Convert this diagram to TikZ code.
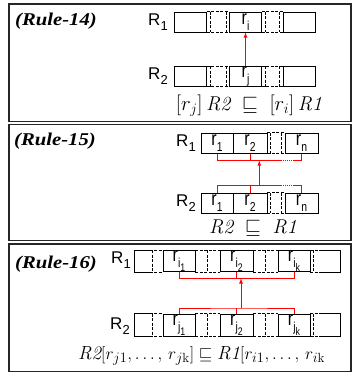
\documentclass[tikz,border=0pt]{standalone}
\usepackage{amsmath}
\usepackage{amssymb}
\usepackage{fontspec}
\setsansfont{Liberation Sans}
\newfontfamily\rulefont[FakeStretch=1.15]{Liberation Serif}
\newfontfamily\cellfont[FakeStretch=0.8]{Liberation Sans}
\newcommand{\lo}[1]{\raisebox{-0.3em}{\fontsize{13}{13}\selectfont #1}}
\newcommand{\llo}[1]{\raisebox{-0.25em}{\fontsize{11}{11}\selectfont #1}}

\tikzset{
  frame/.style={draw=black!85, line width=1.2pt},
  cell/.style={draw, line width=0.8pt, minimum width=32pt, minimum height=20pt,
    inner sep=0pt, font=\cellfont\fontsize{20}{20}\selectfont},
  edge/.style={line width=0.8pt},
  gap/.style={line width=0.8pt, dash pattern=on 3pt off 1.5pt},
  link/.style={red, line width=0.8pt},
  rulelbl/.style={font=\rulefont\fontsize{18}{18}\selectfont\bfseries\itshape},
  relname/.style={font=\sffamily\fontsize{17}{17}\selectfont, inner sep=0pt},
  formula/.style={font=\fontsize{20}{20}\selectfont, inner sep=0pt}
}

\begin{document}
\begin{tikzpicture}[x=1pt, y=-1pt, >=latex]
        \useasboundingbox (0,0) rectangle (352,374);

        \draw[frame] (9,4) rectangle (351,121.7); % рамка 1
        \draw[frame] (9,124.3) rectangle (351,240.7); % рамка 2
        \draw[frame] (9,244) rectangle (351,371.7); % рамка 3

        % правило 14
        \node[rulelbl] (rule14) at (56,21) {(Rule-14)};
        \node[relname] (R1a) at (158,22) {R\lo{1}};
        \node[relname] (R2a) at (158,76.5) {R\lo{2}};
        \node[cell] (a1) at (190.5,22) {};
        \node[cell] (a2) at (245.5,22) {r\lo{i}};
        \node[cell] (a3) at (299,22) {};
        \node[cell] (b1) at (190.5,76.5) {};
        \node[cell] (b2) at (245.5,76.5) {r\lo{j}};
        \node[cell] (b3) at (299,76.5) {};
        \foreach \l/\r in {a1/a2,a2/a3,b1/b2,b2/b3}
          \draw[gap] (\l.north east) -- (\r.north west) (\l.south east) -- (\r.south west)
            ([xshift=3pt]\l.north east) -- ([xshift=3pt]\l.south east)
            ([xshift=-3pt]\r.north west) -- ([xshift=-3pt]\r.south west);
        \draw[link,->] (b2.north) -- (a2.south);
        \node[formula] (f14) at (249,106) {$[r_j]\,\mathit{R2}\;\sqsubseteq\;[r_i]\,\mathit{R1}$};

        % правило 15
        \node[rulelbl] (rule15) at (55,141) {(Rule-15)};
        \node[relname] (R1b) at (186,143.3) {R\lo{1}};
        \node[relname] (R2b) at (186,203) {R\lo{2}};
        \node[cell] (c1) at (217,143.3) {r\lo{1}};
        \node[cell, minimum width=34pt] (c2) at (250,143.3) {r\lo{2}};
        \node[cell, minimum width=33pt] (c3) at (301.5,143.3) {r\lo{n}};
        \node[cell] (d1) at (217,203) {r\lo{1}};
        \node[cell, minimum width=34pt] (d2) at (250,203) {r\lo{2}};
        \node[cell, minimum width=33pt] (d3) at (301.5,203) {r\lo{n}};
        \foreach \l/\r in {c2/c3,d2/d3}
          \draw[gap] (\l.north east) -- (\r.north west) (\l.south east) -- (\r.south west)
            ([xshift=3pt]\l.north east) -- ([xshift=3pt]\l.south east)
            ([xshift=-3pt]\r.north west) -- ([xshift=-3pt]\r.south west);
        \coordinate (u1) at (259.3,160.5);
        \coordinate (h1) at (281,160.5);
        \coordinate (h2) at (293,160.5);
        \coordinate (v1) at (259.3,185);
        \coordinate (g1) at (281,185);
        \coordinate (g2) at (293,185);
        \draw[link] (c1.south) |- (h1);
        \draw[link, dash pattern=on 1pt off 1pt] (h1) -- (h2);
        \draw[link] (h2) -| (c3.south);
        \draw[link] (c2.south) -- (c2.south |- h1);
        \draw[link] (d1.north) |- (g1);
        \draw[link, dash pattern=on 1pt off 1pt] (g1) -- (g2);
        \draw[link] (g2) -| (d3.north);
        \draw[link] (d2.north) -- (d2.north |- g1);
        \draw[link,->] (v1) -- (u1);
        \node[formula] (f15) at (253,228) {$\mathit{R2}\;\sqsubseteq\;\mathit{R1}$};

        % правило 16
        \node[rulelbl] (rule16) at (56,264) {(Rule-16)};
        \node[relname] (R1c) at (121,260) {R\lo{1}};
        \node[relname] (R2c) at (120,326) {R\lo{2}};
        \node[cell, minimum height=21pt] (e1) at (179,261) {r\lo{i\llo{1}}};
        \node[cell, minimum height=21pt, minimum width=33pt] (e2) at (236.5,261) {r\lo{i\llo{2}}};
        \node[cell, minimum height=21pt] (e3) at (294,261) {r\lo{i\llo{k}}};
        \node[cell, minimum height=22pt] (f1) at (179,325) {r\lo{j\llo{1}}};
        \node[cell, minimum height=22pt, minimum width=33pt] (f2) at (236.5,325) {r\lo{j\llo{2}}};
        \node[cell, minimum height=22pt] (f3) at (294,325) {r\lo{j\llo{k}}};
        \foreach \l/\r in {e1/e2,e2/e3,f1/f2,f2/f3}
          \draw[gap] (\l.north east) -- (\r.north west) (\l.south east) -- (\r.south west)
            ([xshift=12pt]\l.north east) -- ([xshift=12pt]\l.south east);
        \foreach \c in {e1,f1} {
          \draw[edge] ([xshift=-13pt]\c.north west) -| ([xshift=-28pt]\c.south west) -- ([xshift=-13pt]\c.south west);
          \draw[gap] ([xshift=-13pt]\c.north west) -- (\c.north west) ([xshift=-13pt]\c.south west) -- (\c.south west)
            ([xshift=-10pt]\c.north west) -- ([xshift=-10pt]\c.south west);
        }
        \foreach \c in {e3,f3} {
          \draw[edge] ([xshift=12pt]\c.north east) -| ([xshift=30pt]\c.south east) -- ([xshift=12pt]\c.south east);
          \draw[gap] (\c.north east) -- ([xshift=12pt]\c.north east) (\c.south east) -- ([xshift=12pt]\c.south east)
            ([xshift=3pt]\c.north east) -- ([xshift=3pt]\c.south east);
        }
        \coordinate (k1) at (241,278.3);
        \coordinate (k2) at (241,308);
        \draw[link] (e1.south) |- (k1) -| (e3.south);
        \draw[link] (e2.south) -- (e2.south |- k1);
        \draw[link] (f1.north) |- (k2) -| (f3.north);
        \draw[link] (f2.north) -- (f2.north |- k2);
        \draw[link,->] (k2) -- (k1);
        \node[formula, anchor=west, font=\fontsize{19}{19}\selectfont] (f16) at (78,356) {$\mathit{R2}[r_{j1},\ldots,\,r_{j\mathrm{k}}]\sqsubseteq\mathit{R1}[r_{i1},\ldots,\,r_{i\mathrm{k}}$};
    \end{tikzpicture}
\end{document}
